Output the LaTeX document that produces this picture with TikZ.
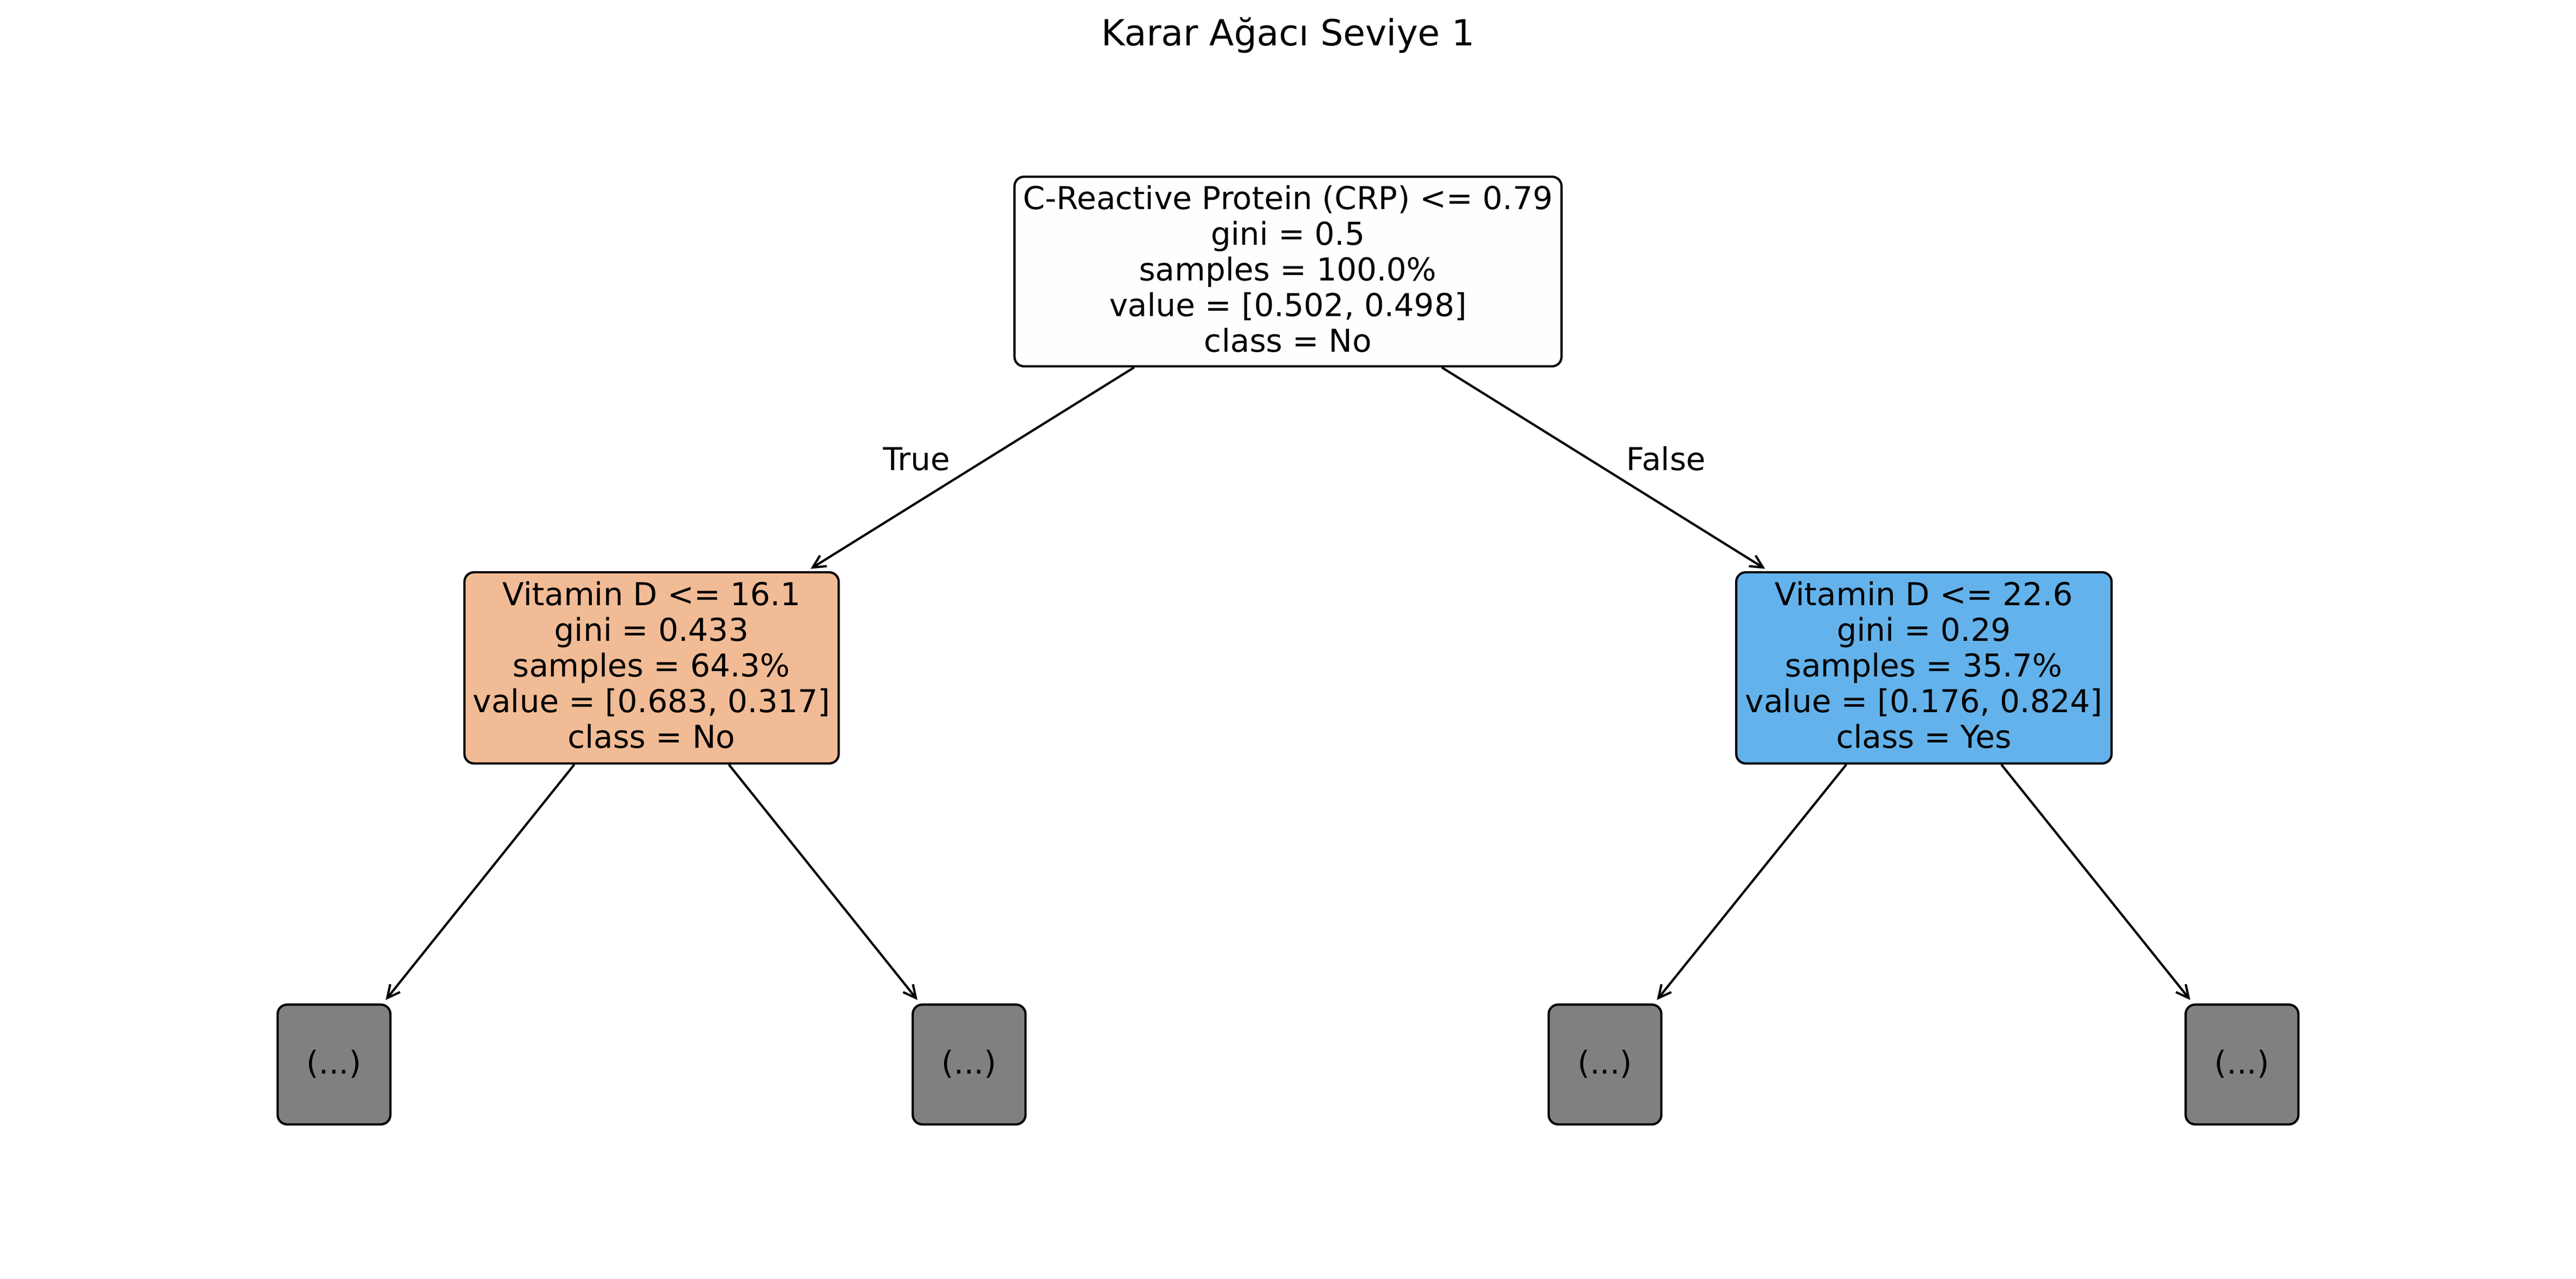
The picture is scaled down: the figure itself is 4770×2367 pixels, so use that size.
\documentclass[tikz,border=0pt]{standalone}
\usepackage{fontspec}
\setmainfont{DejaVu Sans}
\usetikzlibrary{arrows.meta}
\definecolor{rootfill}{RGB}{255,254,253}
\definecolor{leftfill}{RGB}{241,187,149}
\definecolor{rightfill}{RGB}{99,178,235}
\definecolor{leaffill}{RGB}{128,128,128}
\begin{document}
\begin{tikzpicture}[x=0.24pt,y=-0.24pt,
  treebox/.style={draw=black, line width=1pt, rounded corners=4.2pt, align=center,
    inner sep=0pt, font=\fontsize{14pt}{15.84pt}\selectfont,
    text height=71.5pt, text depth=0pt},
  leafbox/.style={draw=black, line width=1pt, rounded corners=4.2pt, fill=leaffill,
    inner sep=0pt, font=\fontsize{14pt}{15.84pt}\selectfont,
    text height=8.16pt, text depth=0pt, minimum width=50.1pt, minimum height=53.2pt},
  edgelabel/.style={anchor=base, inner sep=0pt, font=\fontsize{14pt}{15.84pt}\selectfont},
  titlestyle/.style={anchor=base, inner sep=0pt, font=\fontsize{16pt}{19.2pt}\selectfont},
  arr/.style={draw=black, line width=1pt, -{Straight Barb[length=5.6pt,width=5.6pt]}, shorten >=2pt}
]
\fill[white] (0,0) rectangle (4770,2367);
\useasboundingbox (0,0) rectangle (4770,2367);

\node[titlestyle] (title) at (2385,85) {Karar Ağacı Seviye 1};

\node[treebox, fill=rootfill, minimum width=243.1pt, minimum height=84.2pt] (root) at (2385,502.5)
  {C-Reactive Protein (CRP) <= 0.79\\gini = 0.5\\samples = 100.0\%\\value = [0.502, 0.498]\\class = No};
\node[treebox, fill=leftfill, minimum width=166.3pt, minimum height=84.9pt] (left) at (1206.5,1236)
  {Vitamin D <= 16.1\\gini = 0.433\\samples = 64.3\%\\value = [0.683, 0.317]\\class = No};
\node[treebox, fill=rightfill, minimum width=166.8pt, minimum height=84.9pt] (right) at (3562.5,1236)
  {Vitamin D <= 22.6\\gini = 0.29\\samples = 35.7\%\\value = [0.176, 0.824]\\class = Yes};

\node[leafbox] (leafA) at (618.5,1970) {(...)};
\node[leafbox] (leafB) at (1794.5,1970) {(...)};
\node[leafbox] (leafC) at (2972,1970) {(...)};
\node[leafbox] (leafD) at (4151.5,1970) {(...)};

\draw[arr] (root) -- (left);
\draw[arr] (root) -- (right);
\draw[arr] (left) -- (leafA);
\draw[arr] (left) -- (leafB);
\draw[arr] (right) -- (leafC);
\draw[arr] (right) -- (leafD);

\node[edgelabel] (ltrue) at (1697,870) {True};
\node[edgelabel] (lfalse) at (3085,870) {False};
\end{tikzpicture}
\end{document}
